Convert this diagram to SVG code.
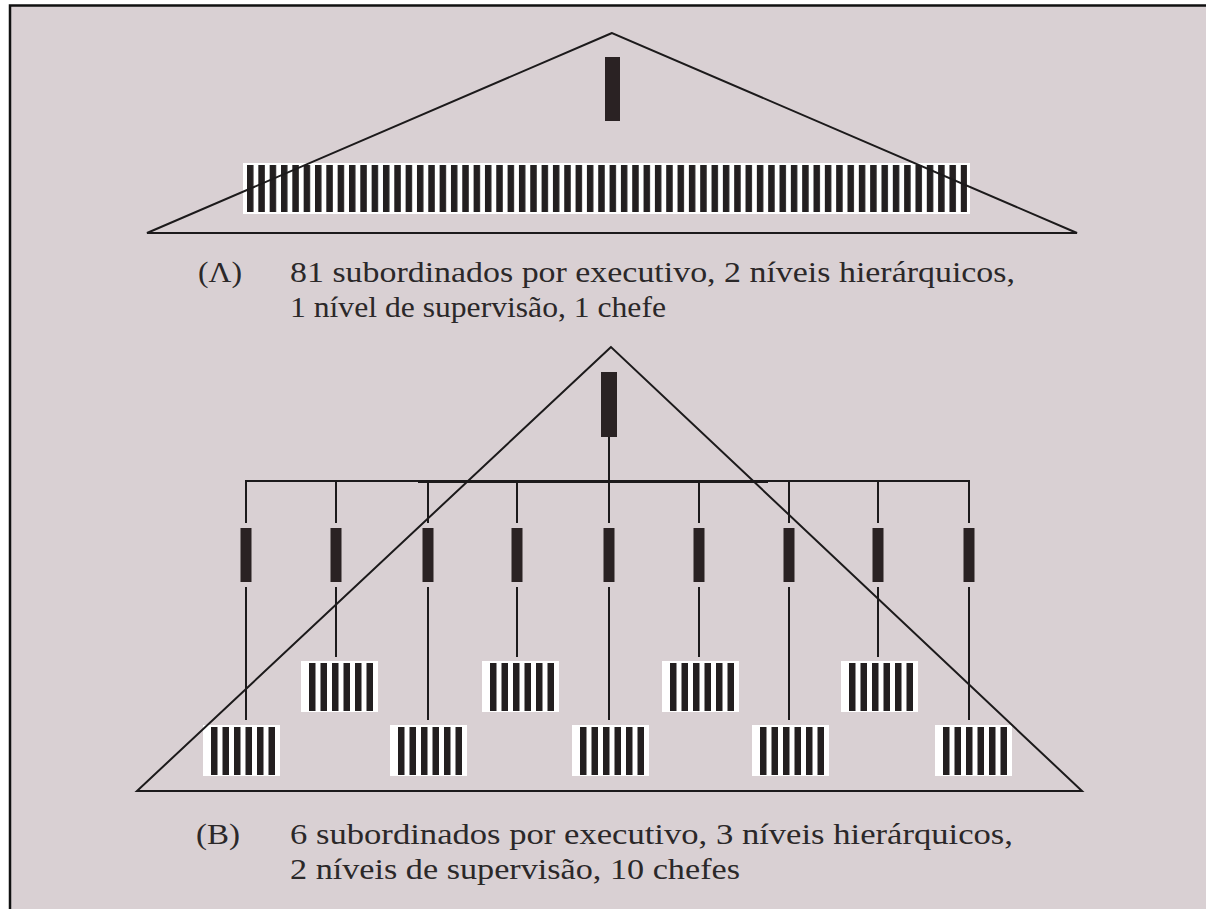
<svg xmlns="http://www.w3.org/2000/svg" xmlns:xlink="http://www.w3.org/1999/xlink" width="1206" height="909" viewBox="0 0 1206 909">
<style>
.ln{stroke:#1c1a1b;stroke-width:2;fill:none}
.bar{fill:#2a2223}
.txt{font-family:"Liberation Serif","Times New Roman",serif;font-size:29px;fill:#2b2829}
</style>
<defs>
<pattern id="strA" x="247" y="0" width="11.33" height="100" patternUnits="userSpaceOnUse">
<rect x="0" y="0" width="6.5" height="100" fill="#231f20"/>
</pattern>
<g id="grp">
<rect x="0" y="0" width="77" height="51" fill="#ffffff"/>
<rect x="8" y="2" width="6.5" height="48" fill="#231f20"/>
<rect x="19.5" y="2" width="6.5" height="48" fill="#231f20"/>
<rect x="31" y="2" width="6.5" height="48" fill="#231f20"/>
<rect x="42.5" y="2" width="6.5" height="48" fill="#231f20"/>
<rect x="54" y="2" width="6.5" height="48" fill="#231f20"/>
<rect x="65.5" y="2" width="6.5" height="48" fill="#231f20"/>
</g>
<rect id="mid" x="-5.5" y="0" width="11" height="54" fill="#2a2223"/>
</defs>
<rect x="0" y="0" width="1206" height="909" fill="#ffffff"/>
<rect x="10" y="5.5" width="1210" height="920" fill="#d9d0d3" stroke="#111" stroke-width="2.5"/>

<g id="diagramA">
<g id="A-chefe"><rect class="bar" x="605" y="57" width="15" height="64"/></g>
<g id="A-subordinados">
<rect x="243" y="163" width="727" height="51" fill="#ffffff"/>
<rect x="247" y="165" width="720" height="47" fill="url(#strA)"/>
</g>
<polygon id="A-triangle" class="ln" points="612,33 147,233 1077,233"/>
</g>

<g id="A-label">
<text class="txt" x="198" y="282" textLength="44" lengthAdjust="spacingAndGlyphs">(Λ)</text>
<text class="txt" x="290" y="282" textLength="725" lengthAdjust="spacingAndGlyphs">81 subordinados por executivo, 2 níveis hierárquicos,</text>
<text class="txt" x="290" y="317" textLength="376" lengthAdjust="spacingAndGlyphs">1 nível de supervisão, 1 chefe</text>
</g>

<g id="B-chefe"><rect class="bar" x="601" y="372" width="16" height="65"/></g>

<g id="B-executivos">
<use xlink:href="#mid" x="246" y="528"/>
<use xlink:href="#mid" x="336" y="528"/>
<use xlink:href="#mid" x="428" y="528"/>
<use xlink:href="#mid" x="517" y="528"/>
<use xlink:href="#mid" x="609" y="528"/>
<use xlink:href="#mid" x="699" y="528"/>
<use xlink:href="#mid" x="789" y="528"/>
<use xlink:href="#mid" x="878" y="528"/>
<use xlink:href="#mid" x="969" y="528"/>
</g>

<g id="B-grupos">
<use xlink:href="#grp" x="203" y="725"/>
<use xlink:href="#grp" x="390" y="725"/>
<use xlink:href="#grp" x="572" y="725"/>
<use xlink:href="#grp" x="752" y="725"/>
<use xlink:href="#grp" x="935" y="725"/>
<use xlink:href="#grp" x="301" y="661"/>
<use xlink:href="#grp" x="482" y="661"/>
<use xlink:href="#grp" x="662" y="661"/>
<use xlink:href="#grp" x="841" y="661"/>
</g>

<g id="connectors" class="ln">
<line x1="609" y1="437" x2="609" y2="523"/>
<polyline points="246,523 246,481 969,481 969,523"/>
<line x1="418" y1="482.5" x2="768" y2="482.5" stroke-width="1"/>
<line x1="336" y1="481" x2="336" y2="523"/>
<line x1="428" y1="481" x2="428" y2="523"/>
<line x1="517" y1="481" x2="517" y2="523"/>
<line x1="699" y1="481" x2="699" y2="523"/>
<line x1="789" y1="481" x2="789" y2="523"/>
<line x1="878" y1="481" x2="878" y2="523"/>
<line x1="246" y1="587" x2="246" y2="720"/>
<line x1="428" y1="587" x2="428" y2="720"/>
<line x1="609" y1="587" x2="609" y2="720"/>
<line x1="789" y1="587" x2="789" y2="720"/>
<line x1="969" y1="587" x2="969" y2="720"/>
<line x1="336" y1="587" x2="336" y2="657"/>
<line x1="517" y1="587" x2="517" y2="657"/>
<line x1="699" y1="587" x2="699" y2="657"/>
<line x1="878" y1="587" x2="878" y2="657"/>
</g>

<polygon id="B-triangle" class="ln" points="611,347 137,791 1082,791"/>

<g id="B-label">
<text class="txt" x="196" y="844" textLength="44" lengthAdjust="spacingAndGlyphs">(B)</text>
<text class="txt" x="290" y="844" textLength="723" lengthAdjust="spacingAndGlyphs">6 subordinados por executivo, 3 níveis hierárquicos,</text>
<text class="txt" x="290" y="879" textLength="450" lengthAdjust="spacingAndGlyphs">2 níveis de supervisão, 10 chefes</text>
</g>
</svg>
